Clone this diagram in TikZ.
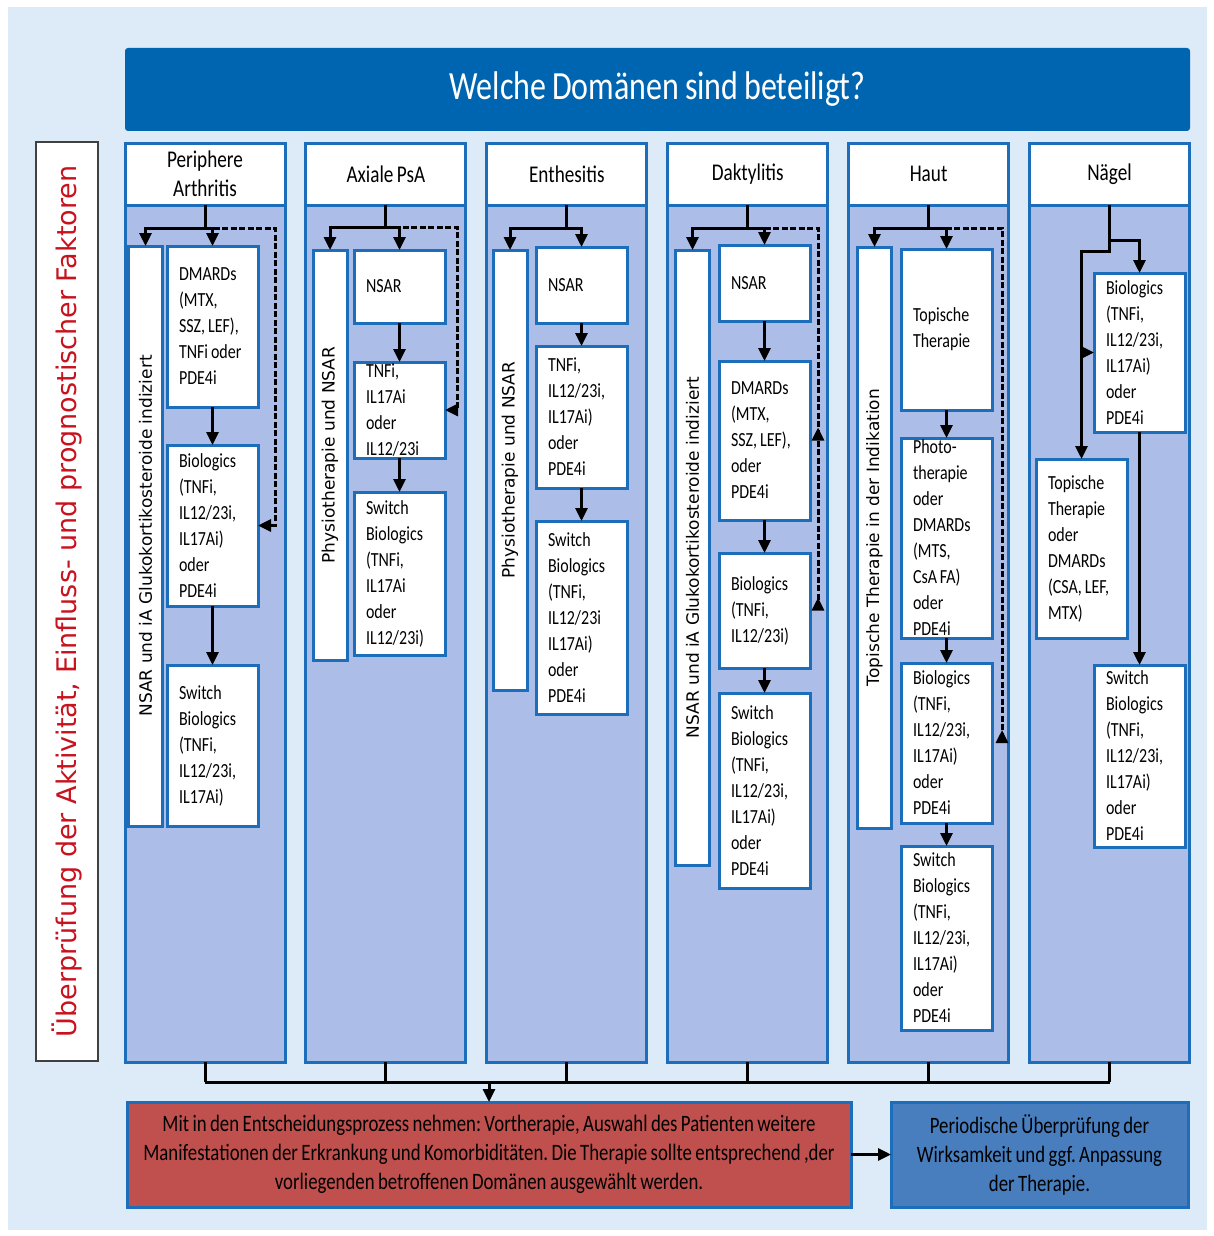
\documentclass[tikz,border=0pt]{standalone}
\usepackage{fontspec}
\setmainfont{Carlito}[FakeStretch=0.8, WordSpace=0.8]
\newfontfamily\sidefont{DejaVu Sans}[WordSpace=3]
\newfontfamily\vertfont{DejaVu Sans}
\usetikzlibrary{arrows.meta}
\frenchspacing

\definecolor{bgblue}{RGB}{221,234,247}
\definecolor{titleblue}{RGB}{0,101,176}
\definecolor{colblue}{RGB}{172,190,231}
\definecolor{lineblue}{RGB}{28,110,186}
\definecolor{boxred}{RGB}{192,80,77}
\definecolor{boxmid}{RGB}{72,126,190}
\definecolor{sidered}{RGB}{200,18,30}
\definecolor{sidegray}{RGB}{64,64,64}

\tikzset{
  titlebar/.style={fill=titleblue, rounded corners=3pt, outer sep=0pt, minimum width=1065pt, minimum height=83pt, text=white, font=\fontsize{40}{48}\selectfont},
  sidebox/.style={draw=sidegray, line width=2pt, fill=white, outer sep=0pt, rotate=90, minimum width=919pt, minimum height=62pt, text=sidered, font=\sidefont\fontsize{27}{32}\selectfont},
  colhead/.style={draw=lineblue, line width=3pt, fill=white, outer sep=0pt, anchor=north west, minimum width=160pt, minimum height=62pt, align=center, font=\fontsize{24}{29}\selectfont},
  colbody/.style={draw=lineblue, line width=3pt, fill=colblue, outer sep=0pt, anchor=north west, minimum width=160pt, minimum height=857pt},
  stepbox/.style={draw=lineblue, line width=3pt, fill=white, outer sep=0pt, anchor=north west, inner xsep=12pt, inner ysep=0pt, text width=67pt, align=flush left, font=\fontsize{20}{26}\selectfont},
  vertbox/.style={draw=lineblue, line width=3pt, fill=white, outer sep=0pt, rotate=90, minimum height=34pt, inner sep=0pt, font=\vertfont\fontsize{17}{20}\selectfont},
  notebox/.style={draw=lineblue, line width=3pt, outer sep=0pt, minimum height=105pt, align=center, font=\fontsize{23.5}{29}\selectfont},
  link/.style={line width=3pt},
  arr/.style={line width=3pt, -{Triangle[length=13pt,width=12pt]}},
  dasharr/.style={arr, dash pattern=on 6pt off 2.5pt},
  dashup/.style={line width=3pt, dash pattern=on 6pt off 2.5pt, -{Triangle[reversed,length=13pt,width=12pt]}}
}

\begin{document}
\begin{tikzpicture}[x=1pt,y=1pt,yscale=-1,xscale=1]
\useasboundingbox (0,0) rectangle (1214,1236);
\fill[white] (0,0) rectangle (1214,1236);
\fill[bgblue] (8,7) rectangle (1207,1230);

% Text Node
\node[titlebar] (title) at (657.5,89.5) {Welche Domänen sind beteiligt?};
% Text Node
\node[sidebox] (side) at (67,601.5) {Überprüfung der Aktivität, Einfluss- und prognostischer Faktoren};

%Columns
\node[colbody] (pa-body) at (125,205) {};
\node[colhead] (pa-head) at (125,143) {Periphere\\Arthritis};
\node[colbody] (ax-body) at (305.9,205) {};
\node[colhead] (ax-head) at (305.9,143) {Axiale PsA};
\node[colbody] (en-body) at (486.8,205) {};
\node[colhead] (en-head) at (486.8,143) {Enthesitis};
\node[colbody] (da-body) at (667.7,205) {};
\node[colhead] (da-head) at (667.7,143) {Daktylitis};
\node[colbody] (ha-body) at (848.6,205) {};
\node[colhead] (ha-head) at (848.6,143) {Haut};
\node[colbody] (ng-body) at (1029.5,205) {};
\node[colhead] (ng-head) at (1029.5,143) {Nägel};

% Text Node -- Periphere Arthritis
\node[vertbox, minimum width=580pt] (pa-v) at (145.5,536) {NSAR und iA Glukokortikosteroide indiziert};
\node[stepbox, minimum height=161pt] (pa-1) at (167,246) {DMARDs\\(MTX,\\SSZ, LEF),\\TNFi oder\\PDE4i};
\node[stepbox, minimum height=161pt] (pa-2) at (167,445) {Biologics\\(TNFi,\\IL12/23i,\\IL17Ai)\\oder\\PDE4i};
\node[stepbox, minimum height=161pt] (pa-3) at (167,665) {Switch\\Biologics\\(TNFi,\\IL12/23i,\\IL17Ai)};

% Text Node -- Axiale PsA
\node[vertbox, minimum width=410pt] (ax-v) at (330,455) {Physiotherapie und NSAR};
\node[stepbox, minimum height=73pt] (ax-1) at (354,250) {NSAR};
\node[stepbox, minimum height=96pt] (ax-2) at (354,362) {TNFi,\\IL17Ai\\oder\\IL12/23i};
\node[stepbox, minimum height=163pt] (ax-3) at (354,492) {Switch\\Biologics\\(TNFi,\\IL17Ai\\oder\\IL12/23i)};

% Text Node -- Enthesitis
\node[vertbox, minimum width=440pt] (en-v) at (510,470) {Physiotherapie und NSAR};
\node[stepbox, minimum height=76pt] (en-1) at (536,247) {NSAR};
\node[stepbox, minimum height=142pt] (en-2) at (536,346) {TNFi,\\IL12/23i,\\IL17Ai)\\oder\\PDE4i};
\node[stepbox, minimum height=193pt] (en-3) at (536,521) {Switch\\Biologics\\(TNFi,\\IL12/23i\\IL17Ai)\\oder\\PDE4i};

% Text Node -- Daktylitis
\node[vertbox, minimum width=615pt] (da-v) at (692.5,557.5) {NSAR und iA Glukokortikosteroide indiziert};
\node[stepbox, minimum height=76pt] (da-1) at (719,245) {NSAR};
\node[stepbox, minimum height=159pt] (da-2) at (719,361) {DMARDs\\(MTX,\\SSZ, LEF),\\oder\\PDE4i};
\node[stepbox, minimum height=115pt] (da-3) at (719,553) {Biologics\\(TNFi,\\IL12/23i)};
\node[stepbox, minimum height=195pt] (da-4) at (719,693) {Switch\\Biologics\\(TNFi,\\IL12/23i,\\IL17Ai)\\oder\\PDE4i};

% Text Node -- Haut
\node[vertbox, minimum width=581pt] (ha-v) at (874.5,537.5) {Topische Therapie in der Indikation};
\node[stepbox, minimum height=161pt] (ha-1) at (901,249) {Topische\\Therapie};
\node[stepbox, minimum height=200pt] (ha-2) at (901,438) {Photo-\\therapie\\oder\\DMARDs\\(MTS,\\CsA FA)\\oder\\PDE4i};
\node[stepbox, minimum height=160pt] (ha-3) at (901,663) {Biologics\\(TNFi,\\IL12/23i,\\IL17Ai)\\oder\\PDE4i};
\node[stepbox, minimum height=184pt] (ha-4) at (901,846) {Switch\\Biologics\\(TNFi,\\IL12/23i,\\IL17Ai)\\oder\\PDE4i};

% Text Node -- Naegel
\node[stepbox, minimum height=159pt] (ng-1) at (1094,273) {Biologics\\(TNFi,\\IL12/23i,\\IL17Ai)\\oder\\PDE4i};
\node[stepbox, minimum height=179pt] (ng-2) at (1036,459) {Topische\\Therapie\\oder\\DMARDs\\(CSA, LEF,\\MTX)};
\node[stepbox, minimum height=182pt] (ng-3) at (1094,665) {Switch\\Biologics\\(TNFi,\\IL12/23i,\\IL17Ai)\\oder\\PDE4i};

% Text Node -- bottom
\node[notebox, fill=boxred, minimum width=724pt] (mit) at (489,1154.5) {Mit in den Entscheidungsprozess nehmen: Vortherapie, Auswahl des Patienten weitere\\Manifestationen der Erkrankung und Komorbiditäten. Die Therapie sollte entsprechend ,der\\vorliegenden betroffenen Domänen ausgewählt werden.};
\node[notebox, fill=boxmid, minimum width=297pt] (per) at (1039.5,1154.5) {Periodische Überprüfung der\\Wirksamkeit und ggf. Anpassung\\der Therapie.};

\coordinate (pa-split) at (205,228);
\coordinate (pa-bend) at (275,228);
\coordinate (ax-split) at (385.9,227);
\coordinate (ax-bend) at (457,227);
\coordinate (en-split) at (566.8,228);
\coordinate (da-split) at (747.7,228);
\coordinate (da-bend) at (818,228);
\coordinate (ha-split) at (928.6,228);
\coordinate (ha-bend) at (1002,228);
\coordinate (ng-split) at (1109.5,240);
\coordinate (ng-knee) at (1109.5,251);
\coordinate (merge) at (489,1082);

%Straight Lines -- Periphere Arthritis
\draw[link] (pa-head.south) -- (pa-split);
\draw[arr] (pa-split) -| (pa-v.east);
\draw[arr] (pa-split) -| (pa-1.north);
\draw[dasharr] (pa-split) -- (pa-bend) |- (pa-2.east);
\draw[arr] (pa-1) -- (pa-2);
\draw[arr] (pa-2) -- (pa-3);

%Straight Lines -- Axiale PsA
\draw[link] (ax-head.south) -- (ax-split);
\draw[arr] (ax-split) -| (ax-v.east);
\draw[arr] (ax-split) -| (ax-1.north);
\draw[dasharr] (ax-split) -- (ax-bend) |- (ax-2.east);
\draw[arr] (ax-1) -- (ax-2);
\draw[arr] (ax-2) -- (ax-3);

%Straight Lines -- Enthesitis
\draw[link] (en-head.south) -- (en-split);
\draw[arr] (en-split) -| (en-v.east);
\draw[arr] (en-split) -| (en-1.north);
\draw[arr] (en-1) -- (en-2);
\draw[arr] (en-2) -- (en-3);

%Straight Lines -- Daktylitis
\draw[link] (da-head.south) -- (da-split);
\draw[arr] (da-split) -| (da-v.east);
\draw[arr] (da-split) -| (da-1.north);
\draw[dashup] (da-split) -- (da-bend) -- (da-bend |- da-2.east);
\draw[dashup] (da-bend |- da-2.east) -- (da-bend |- da-3.east);
\draw[arr] (da-1) -- (da-2);
\draw[arr] (da-2) -- (da-3);
\draw[arr] (da-3) -- (da-4);

%Straight Lines -- Haut
\draw[link] (ha-head.south) -- (ha-split);
\draw[arr] (ha-split) -| (ha-v.east);
\draw[arr] (ha-split) -| (ha-1.north);
\draw[dashup] (ha-split) -- (ha-bend) -- (ha-bend |- ha-3.east);
\draw[arr] (ha-1) -- (ha-2);
\draw[arr] (ha-2) -- (ha-3);
\draw[arr] (ha-3) -- (ha-4);

%Straight Lines -- Naegel
\draw[link] (ng-head.south) -- (ng-split);
\draw[arr] (ng-split) -| (ng-1.north);
\draw[arr] (ng-split) -- (ng-knee) -| (ng-2.north);
\draw[arr] (ng-2.north |- ng-1.west) -- (ng-1.west);
\draw[arr] (ng-1) -- (ng-3);

%Straight Lines -- bottom
\draw[link] (pa-body.south) -- (pa-body.south |- merge);
\draw[link] (ax-body.south) -- (ax-body.south |- merge);
\draw[link] (en-body.south) -- (en-body.south |- merge);
\draw[link] (da-body.south) -- (da-body.south |- merge);
\draw[link] (ha-body.south) -- (ha-body.south |- merge);
\draw[link] (ng-body.south) -- (ng-body.south |- merge);
\draw[link] (pa-body.south |- merge) -- (ng-body.south |- merge);
\draw[arr] (merge) -- (mit.north);
\draw[arr] (mit) -- (per);

\end{tikzpicture}
\end{document}
